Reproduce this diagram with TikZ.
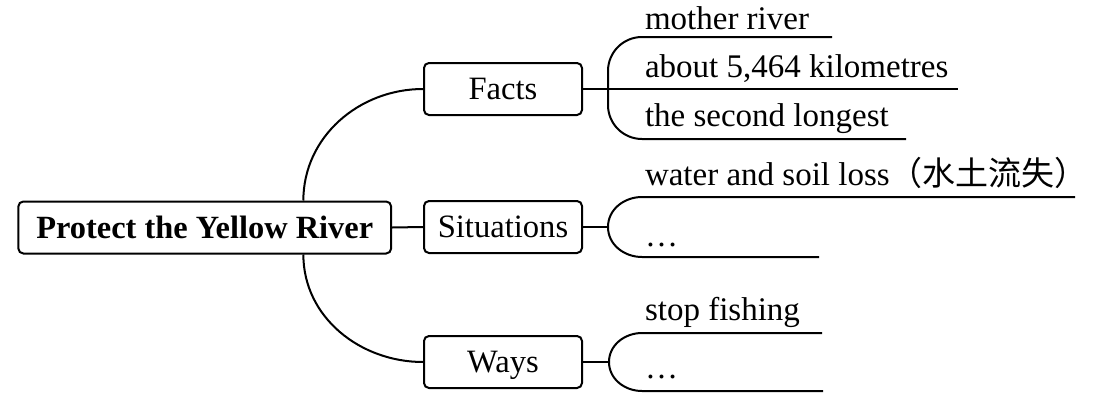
\documentclass[tikz,border=0pt]{standalone}
\usepackage{fontspec}
\setmainfont{Liberation Serif}
\newfontfamily\cjkfont{Noto Sans CJK SC}
\begin{document}
\begin{tikzpicture}[x=0.5pt,y=-0.5pt,line width=1pt,
  box/.style={draw, rounded corners=2.5pt, minimum width=79pt, minimum height=26pt, inner sep=0pt,
    font=\fontsize{16.3pt}{19pt}\selectfont, text height=10.8pt, text depth=0pt},
  leaf/.style={anchor=base west, inner sep=0pt, font=\fontsize{16.5pt}{19pt}\selectfont}]
\useasboundingbox (0,0) rectangle (1100,402);
% central and branch boxes
\node[box, minimum width=186.4pt, font=\fontsize{16.2pt}{19pt}\selectfont\bfseries] (main) at (204.75,227.5) {Protect the Yellow River};
\node[box] (facts) at (503,89) {Facts};
\node[box] (sit) at (503,227) {Situations};
\node[box] (ways) at (503,362) {Ways};
\draw ([xshift=49.3pt]main.north) to[out=90,in=180] (facts.west);
\draw ([xshift=49.3pt]main.south) to[out=-90,in=180] (ways.west);
\draw (main.east) -- (sit.west);
% Facts
\node[leaf] (f1) at (644,29) {mother river};
\node[leaf] (f2) at (644,77) {about 5,464 kilometres};
\node[leaf] (f3) at (644,126) {the second longest};
\coordinate (f1e) at (832,37);
\coordinate (f2e) at (958,89);
\coordinate (f3e) at (906,139);
\draw (facts.east) -- (f2e);
\draw[rounded corners=17pt] (f1e) -- (608,37) -- (608,139) -- (f3e);
% Situations
\node[leaf] (s1) at (644,185) {water and soil loss{\cjkfont （水土流失）}};
\node[leaf] (s2) at (644,246) {\ldots};
\coordinate (s1e) at (1075,197);
\coordinate (s2e) at (819,257);
\coordinate (sbr) at (608,227);
\draw (sit.east) -- (sbr);
\draw (s1e) -- (642,197) to[out=180,in=90] (sbr) to[out=-90,in=180] (642,257) -- (s2e);
% Ways
\node[leaf] (w1) at (644,320) {stop fishing};
\node[leaf] (w2) at (644,378) {\ldots};
\coordinate (w1e) at (822,333);
\coordinate (w2e) at (823,391);
\coordinate (wbr) at (609,362);
\draw (ways.east) -- (wbr);
\draw (w1e) -- (642,333) to[out=180,in=90] (wbr) to[out=-90,in=180] (642,391) -- (w2e);
\end{tikzpicture}
\end{document}
